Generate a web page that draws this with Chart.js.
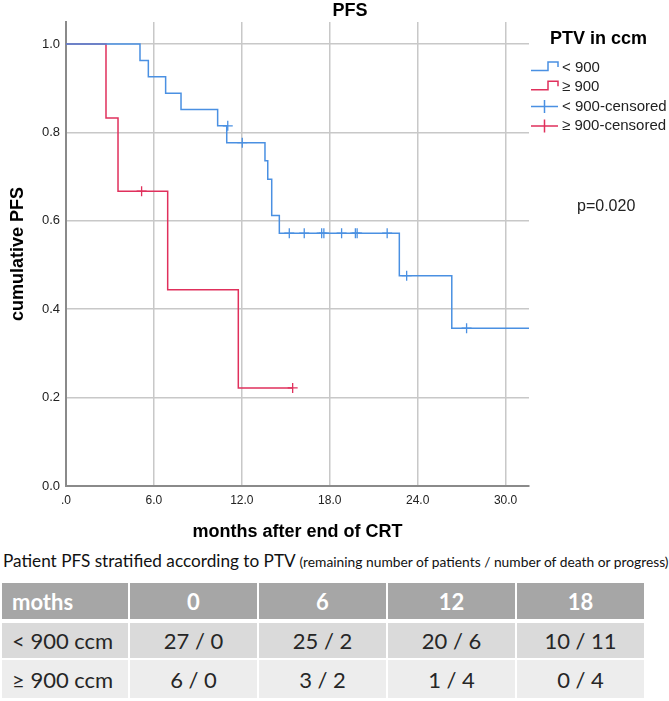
<!DOCTYPE html>
<html>
  <head>
    <title>PFS</title>
    <script src="https://cdn.jsdelivr.net/npm/chart.js"></script>
    <style>
      body { margin: 0; background: #fff; width: 669px; height: 701px; position: relative; overflow: hidden; }
      #wrap { position: absolute; left: 0; top: 0; width: 669px; height: 550px; }
      #caption { position: absolute; left: 3px; top: 550px; font-family: Lato, "Open Sans", sans-serif; font-size: 17.2px; color: #111; white-space: nowrap; }
      #caption small { font-size: 13.8px; }
      #tbl { position: absolute; left: 0px; top: 581px; border-collapse: separate; border-spacing: 2px; font-family: Lato, "Open Sans", sans-serif; font-size: 22px; color: #262626; }
      #tbl td { width: 127px; text-align: center; padding: 0; }
      #tbl tr.h td { background: #a6a6a6; color: #fff; font-weight: bold; height: 36px; }
      #tbl tr.r1 td { background: #dadada; height: 35px; }
      #tbl tr.r2 td { background: #ededed; height: 38px; }
      #tbl td.first { text-align: left; padding-left: 10px; width: 116px; }
      #tbl tr.r1 td { border-top: 2px solid #fff; }
    </style>
  </head>

  <body>
    <div id="wrap"><canvas id="km"></canvas></div>
    <div id="caption">Patient PFS stratified according to PTV <small>(remaining number of patients / number of death or progress)</small></div>
    <table id="tbl"></table>

    <script>
      // Kaplan-Meier steps (months, cumulative PFS)
      var smallTimes = [0, 5.05, 5.62, 6.8, 7.85, 10.35, 10.97, 13.58, 13.77, 14.04, 14.56, 22.75, 26.33, 31.6];
      var smallSurv = [1.0, 0.963, 0.926, 0.889, 0.852, 0.815, 0.777, 0.736, 0.694, 0.612, 0.572, 0.476, 0.357, 0.357];
      var largeTimes = [0, 2.73, 3.55, 6.94, 11.76, 15.47];
      var largeSurv = [1.0, 0.833, 0.667, 0.444, 0.222, 0.222];

      // censored marks
      var smallCensTimes = [11.04, 12.03, 15.24, 16.26, 17.45, 17.6, 18.81, 19.75, 19.87, 21.92, 23.25, 27.34];
      var smallCensSurv = [0.815, 0.777, 0.572, 0.572, 0.572, 0.572, 0.572, 0.572, 0.572, 0.572, 0.476, 0.357];
      var largeCensTimes = [5.16, 15.47];
      var largeCensSurv = [0.667, 0.222];

      var xTicks = [0, 6, 12, 18, 24, 30];
      var yTicks = [0, 0.2, 0.4, 0.6, 0.8, 1.0];

      var legendLabels = ["< 900", "≥ 900", "< 900-censored", "≥ 900-censored"];

      // table under the chart
      var tableHead = ["moths", "0", "6", "12", "18"];
      var rowSmall = ["< 900 ccm", "27 / 0", "25 / 2", "20 / 6", "10 / 11"];
      var rowLarge = ["≥ 900 ccm", "6 / 0", "3 / 2", "1 / 4", "0 / 4"];

      var blue = "#4a90e2";
      var red = "#e0305c";

      function pts(xs, ys) {
        return xs.map((x, i) => ({ x: x, y: ys[i] }));
      }

      var extras = {
        id: "extras",
        afterDraw(chart) {
          var ctx = chart.ctx;
          ctx.save();
          ctx.fillStyle = "#000";
          ctx.textBaseline = "middle";
          ctx.font = "bold 18px 'Liberation Sans', Arial, sans-serif";
          ctx.textAlign = "center";
          ctx.fillText("PFS", 350, 11);

          ctx.textAlign = "left";
          ctx.fillText("PTV in ccm", 550, 39);

          var cols = [blue, red, blue, red];
          ctx.font = "15px 'Liberation Sans', Arial, sans-serif";
          legendLabels.forEach((lab, i) => {
            var cy = 68 + 19.3 * i;
            ctx.strokeStyle = cols[i];
            ctx.lineWidth = 1.5;
            ctx.beginPath();
            if (i < 2) {
              ctx.moveTo(531, cy + 2.5);
              ctx.lineTo(548, cy + 2.5);
              ctx.lineTo(548, cy - 6);
              ctx.lineTo(558, cy - 6);
              ctx.lineTo(558, cy - 1);
            } else {
              ctx.moveTo(531, cy);
              ctx.lineTo(558, cy);
              ctx.moveTo(544.5, cy - 6.5);
              ctx.lineTo(544.5, cy + 6.5);
            }
            ctx.stroke();
            ctx.fillStyle = "#222";
            ctx.fillText(lab, 562, cy);
          });

          ctx.font = "16px 'Liberation Sans', Arial, sans-serif";
          ctx.fillStyle = "#222";
          ctx.fillText("p=0.020", 577, 207);
          ctx.restore();
        },
      };

      var chart = new Chart(document.getElementById("km").getContext("2d"), {
        type: "line",
        data: {
          datasets: [
            {
              label: "< 900",
              data: pts(smallTimes, smallSurv),
              borderColor: blue,
              borderWidth: 1.5,
              stepped: true,
              pointRadius: 0,
              fill: false,
            },
            {
              label: "< 900-censored",
              data: pts(smallCensTimes, smallCensSurv),
              borderColor: blue,
              backgroundColor: blue,
              showLine: false,
              pointStyle: "cross",
              pointRadius: 5,
              pointBorderWidth: 1.3,
            },
            {
              label: "≥ 900",
              data: pts(largeTimes, largeSurv),
              borderColor: red,
              borderWidth: 1.5,
              stepped: true,
              pointRadius: 0,
              fill: false,
            },
            {
              label: "≥ 900-censored",
              data: pts(largeCensTimes, largeCensSurv),
              borderColor: red,
              backgroundColor: red,
              showLine: false,
              pointStyle: "cross",
              pointRadius: 5,
              pointBorderWidth: 1.3,
            },
          ],
        },
        options: {
          responsive: true,
          maintainAspectRatio: false,
          animation: false,
          layout: { padding: { top: 22, right: 140, left: 0, bottom: 0 } },
          plugins: {
            legend: { display: false },
            title: { display: false },
            tooltip: { enabled: false },
          },
          scales: {
            x: {
              type: "linear",
              min: 0,
              max: 31.6,
              afterBuildTicks: (s) => {
                s.ticks = xTicks.map((v) => ({ value: v }));
              },
              afterFit: (s) => {
                s.height = 64;
              },
              ticks: {
                padding: 7,
                color: "#222",
                font: { family: "'Liberation Sans', Arial", size: 12 },
                callback: (v) => (v === 0 ? ".0" : v.toFixed(1)),
              },
              grid: { color: "#c8c8c8", lineWidth: 1.5, drawTicks: false },
              border: { color: "#8a8a8a", width: 2 },
              title: {
                display: true,
                text: "months after end of CRT",
                color: "#000",
                font: { family: "'Liberation Sans', Arial", size: 18, weight: "bold" },
                padding: { top: 0, bottom: 7 },
              },
            },
            y: {
              min: 0,
              max: 1.05,
              afterBuildTicks: (s) => {
                s.ticks = yTicks.map((v) => ({ value: v }));
              },
              afterFit: (s) => {
                s.width = 66;
              },
              ticks: {
                padding: 6,
                color: "#222",
                font: { family: "'Liberation Sans', Arial", size: 13 },
                callback: (v) => v.toFixed(1),
              },
              grid: { color: "#c8c8c8", lineWidth: 1.5, drawTicks: false },
              border: { color: "#8a8a8a", width: 2 },
              title: {
                display: true,
                text: "cumulative PFS",
                color: "#000",
                font: { family: "'Liberation Sans', Arial", size: 18, weight: "bold" },
                padding: { top: 7, bottom: 0 },
              },
            },
          },
        },
        plugins: [extras],
      });

      // build the table
      var tbl = document.getElementById("tbl");
      [["h", tableHead], ["r1", rowSmall], ["r2", rowLarge]].forEach(([cls, row]) => {
        var tr = document.createElement("tr");
        tr.className = cls;
        row.forEach((txt, i) => {
          var td = document.createElement("td");
          td.textContent = txt;
          if (i === 0) td.className = "first";
          tr.appendChild(td);
        });
        tbl.appendChild(tr);
      });
    </script>
  </body>
</html>
